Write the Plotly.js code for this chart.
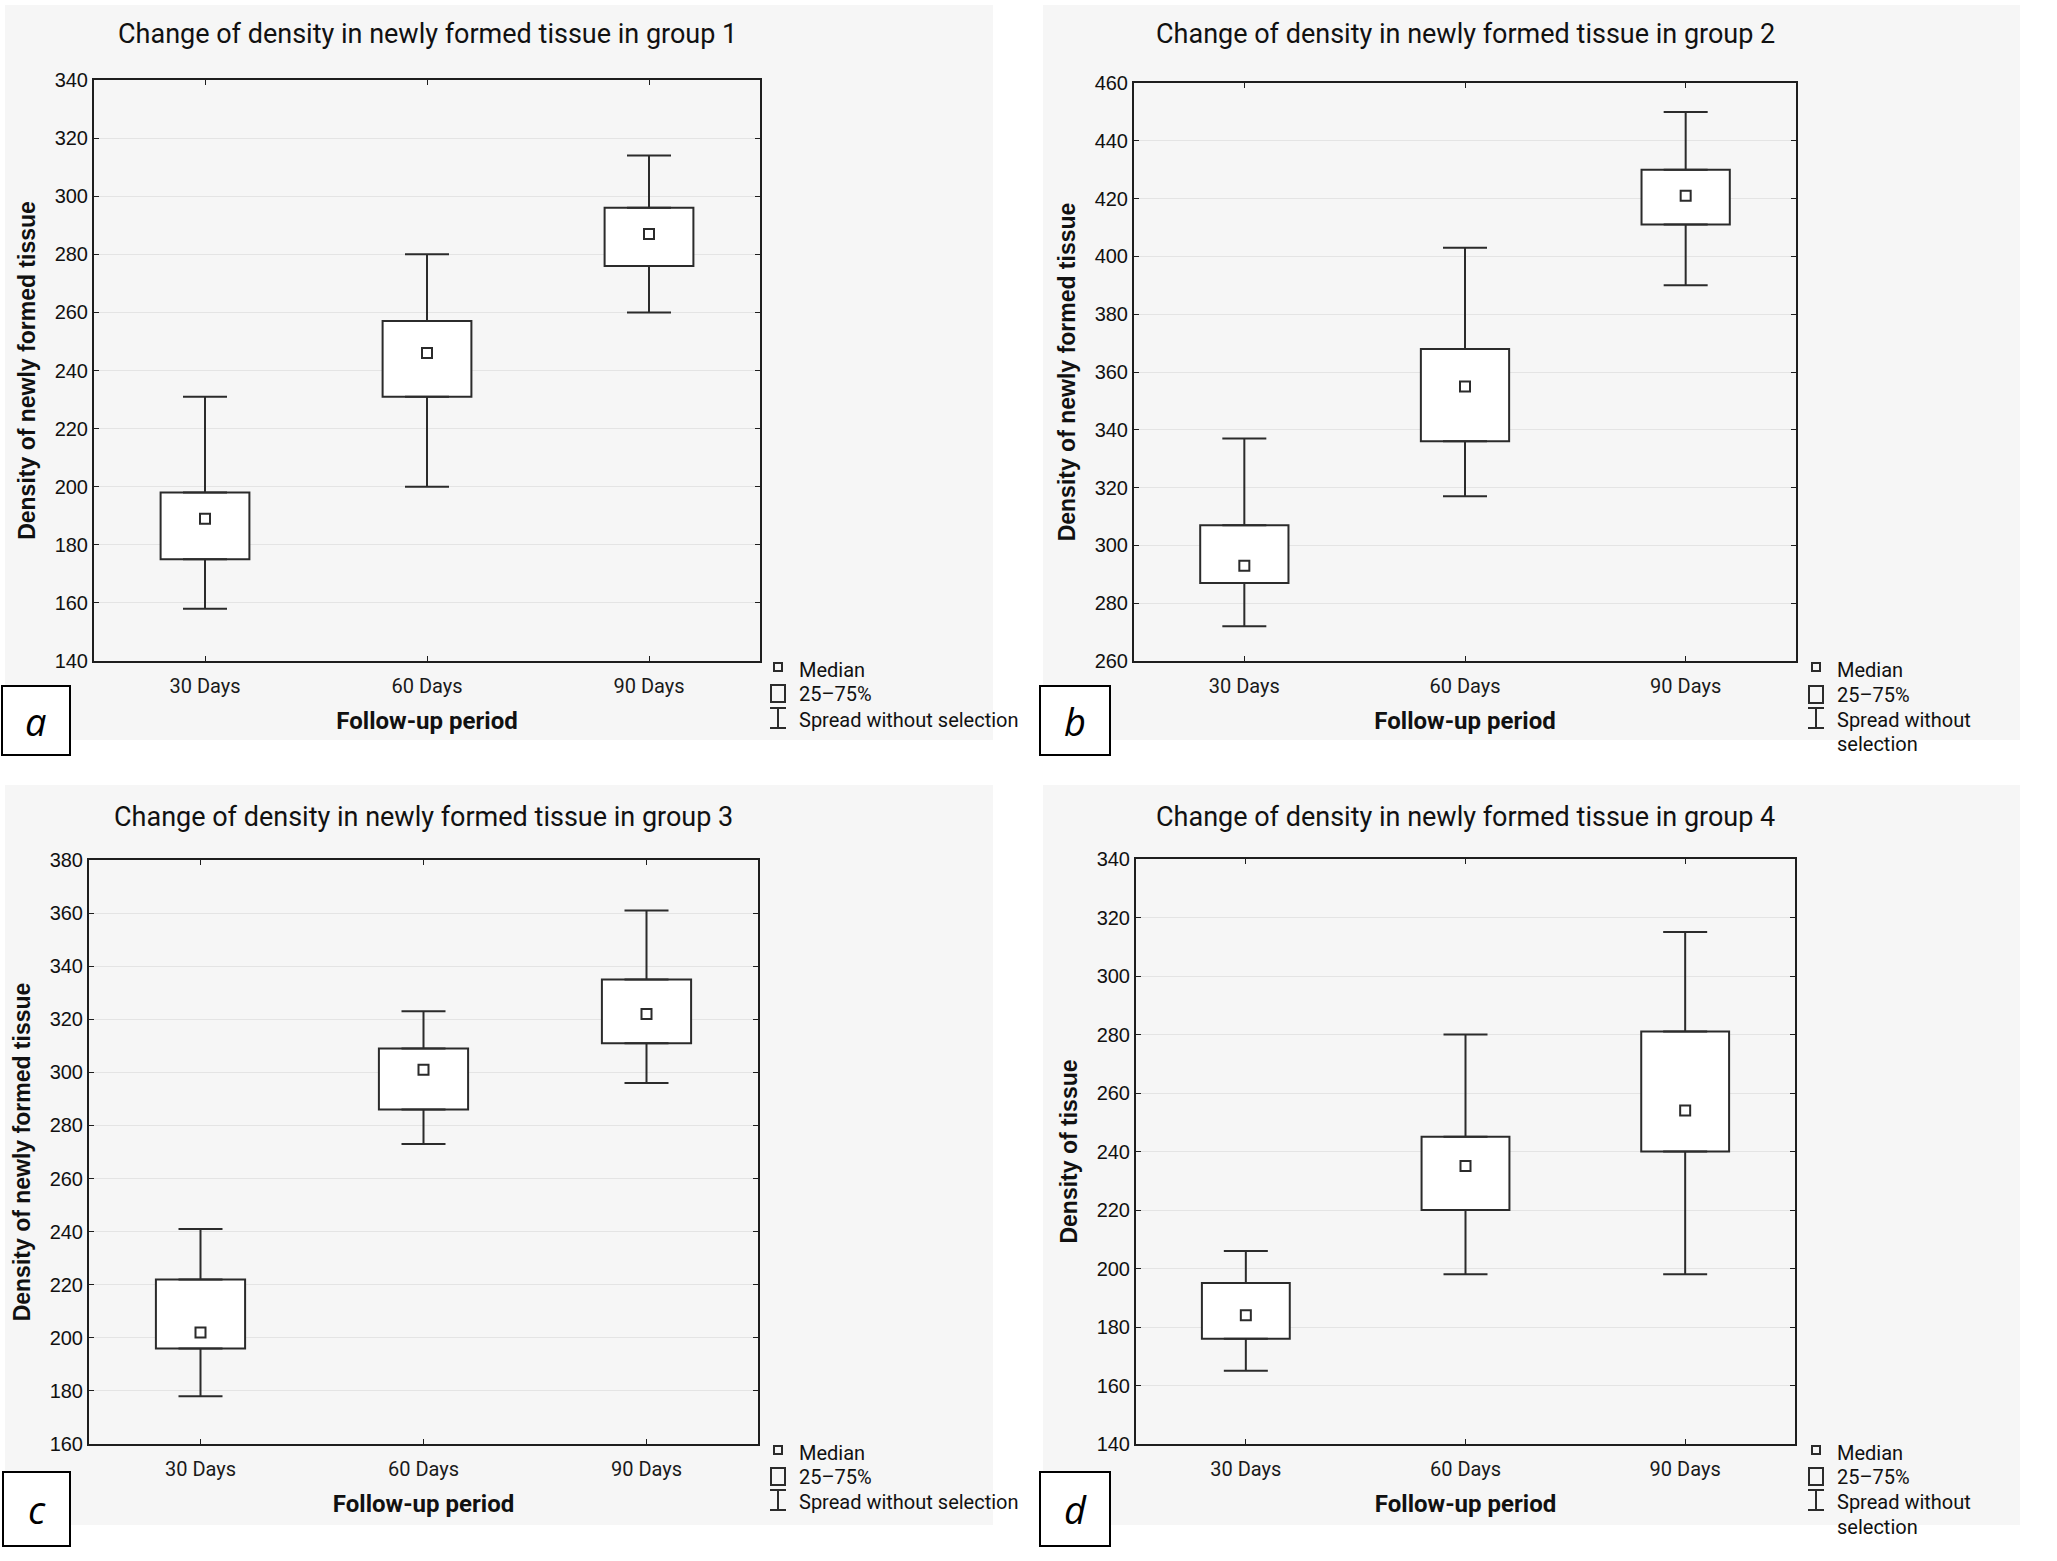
<!DOCTYPE html>
<html>
<head>
<meta charset="utf-8">
<script src="https://cdn.plot.ly/plotly-3.0.1.min.js"></script>
<style>
  html, body { margin: 0; padding: 0; background: #ffffff; }
  #chart { width: 2057px; height: 1561px; }
</style>
</head>
<body>
<div id="chart"></div>
<script>
// ---------------- DATA ----------------
const categories = ['30 Days', '60 Days', '90 Days'];

// Group 1
const g1Low    = [158, 200, 260];
const g1Q1     = [175, 231, 276];
const g1Median = [189, 246, 287];
const g1Q3     = [198, 257, 296];
const g1High   = [231, 280, 314];

// Group 2
const g2Low    = [272, 317, 390];
const g2Q1     = [287, 336, 411];
const g2Median = [293, 355, 421];
const g2Q3     = [307, 368, 430];
const g2High   = [337, 403, 450];

// Group 3
const g3Low    = [178, 273, 296];
const g3Q1     = [196, 286, 311];
const g3Median = [202, 301, 322];
const g3Q3     = [222, 309, 335];
const g3High   = [241, 323, 361];

// Group 4
const g4Low    = [165, 198, 198];
const g4Q1     = [176, 220, 240];
const g4Median = [184, 235, 254];
const g4Q3     = [195, 245, 281];
const g4High   = [206, 280, 315];

const panelTitles = [
  'Change of density in newly formed tissue in group 1',
  'Change of density in newly formed tissue in group 2',
  'Change of density in newly formed tissue in group 3',
  'Change of density in newly formed tissue in group 4'
];
const yTitles = [
  'Density of newly formed tissue',
  'Density of newly formed tissue',
  'Density of newly formed tissue',
  'Density of tissue'
];
const xTitle = 'Follow-up period';
const yRanges = [[140, 340], [260, 460], [160, 380], [140, 340]];
const panelLetters = ['a', 'b', 'c', 'd'];
const legendLabels = ['Median', '25–75%', 'Spread without selection'];

// ---------------- LAYOUT HELPERS ----------------
const W = 2057, H = 1561;
const px = x => x / W;
const py = y => 1 - y / H;

const NARROW = 'Roboto, "Liberation Sans Narrow", sans-serif';
const ARIAL = '"Liberation Sans", Arial, sans-serif';
const INK = '#2b2b2b';

const groups = [
  {low: g1Low, q1: g1Q1, med: g1Median, q3: g1Q3, high: g1High},
  {low: g2Low, q1: g2Q1, med: g2Median, q3: g2Q3, high: g2High},
  {low: g3Low, q1: g3Q1, med: g3Median, q3: g3Q3, high: g3High},
  {low: g4Low, q1: g4Q1, med: g4Median, q3: g4Q3, high: g4High}
];

// panel geometry in pixels
const panels = [
  {xd: [94, 760],   yd: [80, 661],   bg: [5, 5, 993, 740],       box: [2, 686, 70, 755],     titleY: 34,  lx: 778,  rows: [670, 694, 720], split: false},
  {xd: [1134, 1796], yd: [83, 661],  bg: [1043, 5, 2020, 740],   box: [1040, 686, 1110, 755], titleY: 34,  lx: 1816, rows: [670, 695, 720, 744], split: true},
  {xd: [89, 758],   yd: [860, 1444], bg: [5, 785, 993, 1525],    box: [3, 1472, 70, 1546],    titleY: 817, lx: 778,  rows: [1453, 1477, 1502], split: false},
  {xd: [1136, 1795], yd: [859, 1444], bg: [1043, 785, 2020, 1525], box: [1040, 1472, 1110, 1546], titleY: 817, lx: 1816, rows: [1453, 1477, 1502, 1527], split: true}
];

const traces = [];
const layout = {
  width: W, height: H,
  margin: {l: 0, r: 0, t: 0, b: 0},
  paper_bgcolor: '#ffffff',
  plot_bgcolor: '#ffffff',
  showlegend: false,
  shapes: [],
  annotations: []
};

groups.forEach((g, i) => {
  const n = i + 1;
  const xa = n === 1 ? 'x' : 'x' + n;
  const ya = n === 1 ? 'y' : 'y' + n;
  const p = panels[i];

  // 25-75% box
  traces.push({
    type: 'bar', x: categories, base: g.q1,
    y: g.q3.map((v, k) => v - g.q1[k]),
    width: 0.4,
    marker: {color: '#ffffff', line: {color: INK, width: 2}},
    xaxis: xa, yaxis: ya, hoverinfo: 'skip'
  });
  // upper whisker
  traces.push({
    type: 'scatter', mode: 'markers', x: categories, y: g.q3,
    marker: {size: 1, opacity: 0},
    error_y: {type: 'data', symmetric: false,
      array: g.high.map((v, k) => v - g.q3[k]),
      arrayminus: g.q3.map(() => 0),
      color: INK, thickness: 2, width: 22},
    xaxis: xa, yaxis: ya, hoverinfo: 'skip'
  });
  // lower whisker
  traces.push({
    type: 'scatter', mode: 'markers', x: categories, y: g.q1,
    marker: {size: 1, opacity: 0},
    error_y: {type: 'data', symmetric: false,
      array: g.q1.map(() => 0),
      arrayminus: g.q1.map((v, k) => v - g.low[k]),
      color: INK, thickness: 2, width: 22},
    xaxis: xa, yaxis: ya, hoverinfo: 'skip'
  });
  // median
  traces.push({
    type: 'scatter', mode: 'markers', x: categories, y: g.med,
    marker: {symbol: 'square-open', size: 10, color: INK, line: {width: 2, color: INK}},
    xaxis: xa, yaxis: ya, name: 'Median'
  });

  const xKey = n === 1 ? 'xaxis' : 'xaxis' + n;
  const yKey = n === 1 ? 'yaxis' : 'yaxis' + n;
  layout[xKey] = {
    domain: [px(p.xd[0]), px(p.xd[1])],
    anchor: ya, type: 'category', range: [-0.5, 2.5],
    showline: true, mirror: 'ticks', linecolor: '#1e1e1e', linewidth: 2,
    ticks: 'inside', ticklen: 5, tickcolor: '#1e1e1e', tickwidth: 1,
    showgrid: false, zeroline: false,
    ticklabelstandoff: 6,
    tickfont: {family: NARROW, size: 20, color: '#1a1a1a'},
    title: {text: '<b>' + xTitle + '</b>', font: {family: NARROW, size: 24, color: '#111'}, standoff: 15}
  };
  layout[yKey] = {
    domain: [py(p.yd[1]), py(p.yd[0])],
    anchor: xa, range: yRanges[i], dtick: 20, tick0: 0,
    showline: true, mirror: 'ticks', linecolor: '#1e1e1e', linewidth: 2,
    ticks: 'inside', ticklen: 5, tickcolor: '#1e1e1e', tickwidth: 1,
    showgrid: true, gridcolor: '#e4e4e4', gridwidth: 1, zeroline: false,
    tickfont: {family: ARIAL, size: 20, color: '#111'},
    title: {text: '<b>' + yTitles[i] + '</b>', font: {family: ARIAL, size: 23, color: '#111'}, standoff: 13}
  };

  // light panel background
  layout.shapes.push({type: 'rect', xref: 'paper', yref: 'paper', layer: 'below',
    x0: px(p.bg[0]), x1: px(p.bg[2]), y0: py(p.bg[3]), y1: py(p.bg[1]),
    fillcolor: '#f6f6f6', line: {width: 0}});

  // title
  layout.annotations.push({xref: 'paper', yref: 'paper',
    x: px((p.xd[0] + p.xd[1]) / 2), y: py(p.titleY), xanchor: 'center', yanchor: 'middle',
    text: panelTitles[i], showarrow: false, font: {family: NARROW, size: 27, color: '#111'}});

  // panel letter box
  layout.shapes.push({type: 'rect', xref: 'paper', yref: 'paper',
    x0: px(p.box[0]), x1: px(p.box[2]), y0: py(p.box[3]), y1: py(p.box[1]),
    fillcolor: '#ffffff', line: {color: '#000', width: 2}});
  layout.annotations.push({xref: 'paper', yref: 'paper',
    x: px((p.box[0] + p.box[2]) / 2), y: py((p.box[1] + p.box[3]) / 2),
    xanchor: 'center', yanchor: 'middle', showarrow: false,
    text: '<i>' + panelLetters[i] + '</i>',
    font: {family: '"Open Sans", "Noto Sans", sans-serif', size: 38, color: '#000'}});

  // legend symbols
  const lx = p.lx, r = p.rows;
  const lineStyle = {color: INK, width: 2};
  layout.shapes.push({type: 'rect', xref: 'paper', yref: 'paper',
    x0: px(lx - 4), x1: px(lx + 4), y0: py(r[0] + 1), y1: py(r[0] - 7), line: lineStyle});
  layout.shapes.push({type: 'rect', xref: 'paper', yref: 'paper',
    x0: px(lx - 7), x1: px(lx + 7), y0: py(r[1] + 8), y1: py(r[1] - 9), line: lineStyle});
  layout.shapes.push({type: 'line', xref: 'paper', yref: 'paper',
    x0: px(lx), x1: px(lx), y0: py(r[2] - 12), y1: py(r[2] + 8), line: lineStyle});
  layout.shapes.push({type: 'line', xref: 'paper', yref: 'paper',
    x0: px(lx - 8), x1: px(lx + 8), y0: py(r[2] - 12), y1: py(r[2] - 12), line: lineStyle});
  layout.shapes.push({type: 'line', xref: 'paper', yref: 'paper',
    x0: px(lx - 8), x1: px(lx + 8), y0: py(r[2] + 8), y1: py(r[2] + 8), line: lineStyle});

  // legend texts
  const tx = lx + 19;
  const legendFont = {family: NARROW, size: 20, color: '#111'};
  const texts = p.split
    ? [legendLabels[0], legendLabels[1], 'Spread without', 'selection']
    : legendLabels;
  texts.forEach((t, k) => {
    layout.annotations.push({xref: 'paper', yref: 'paper',
      x: px(tx), y: py(r[k]), xanchor: 'left', yanchor: 'middle',
      text: t, showarrow: false, font: legendFont});
  });
});

Plotly.newPlot('chart', traces, layout, {displayModeBar: false, staticPlot: true});
</script>
</body>
</html>
